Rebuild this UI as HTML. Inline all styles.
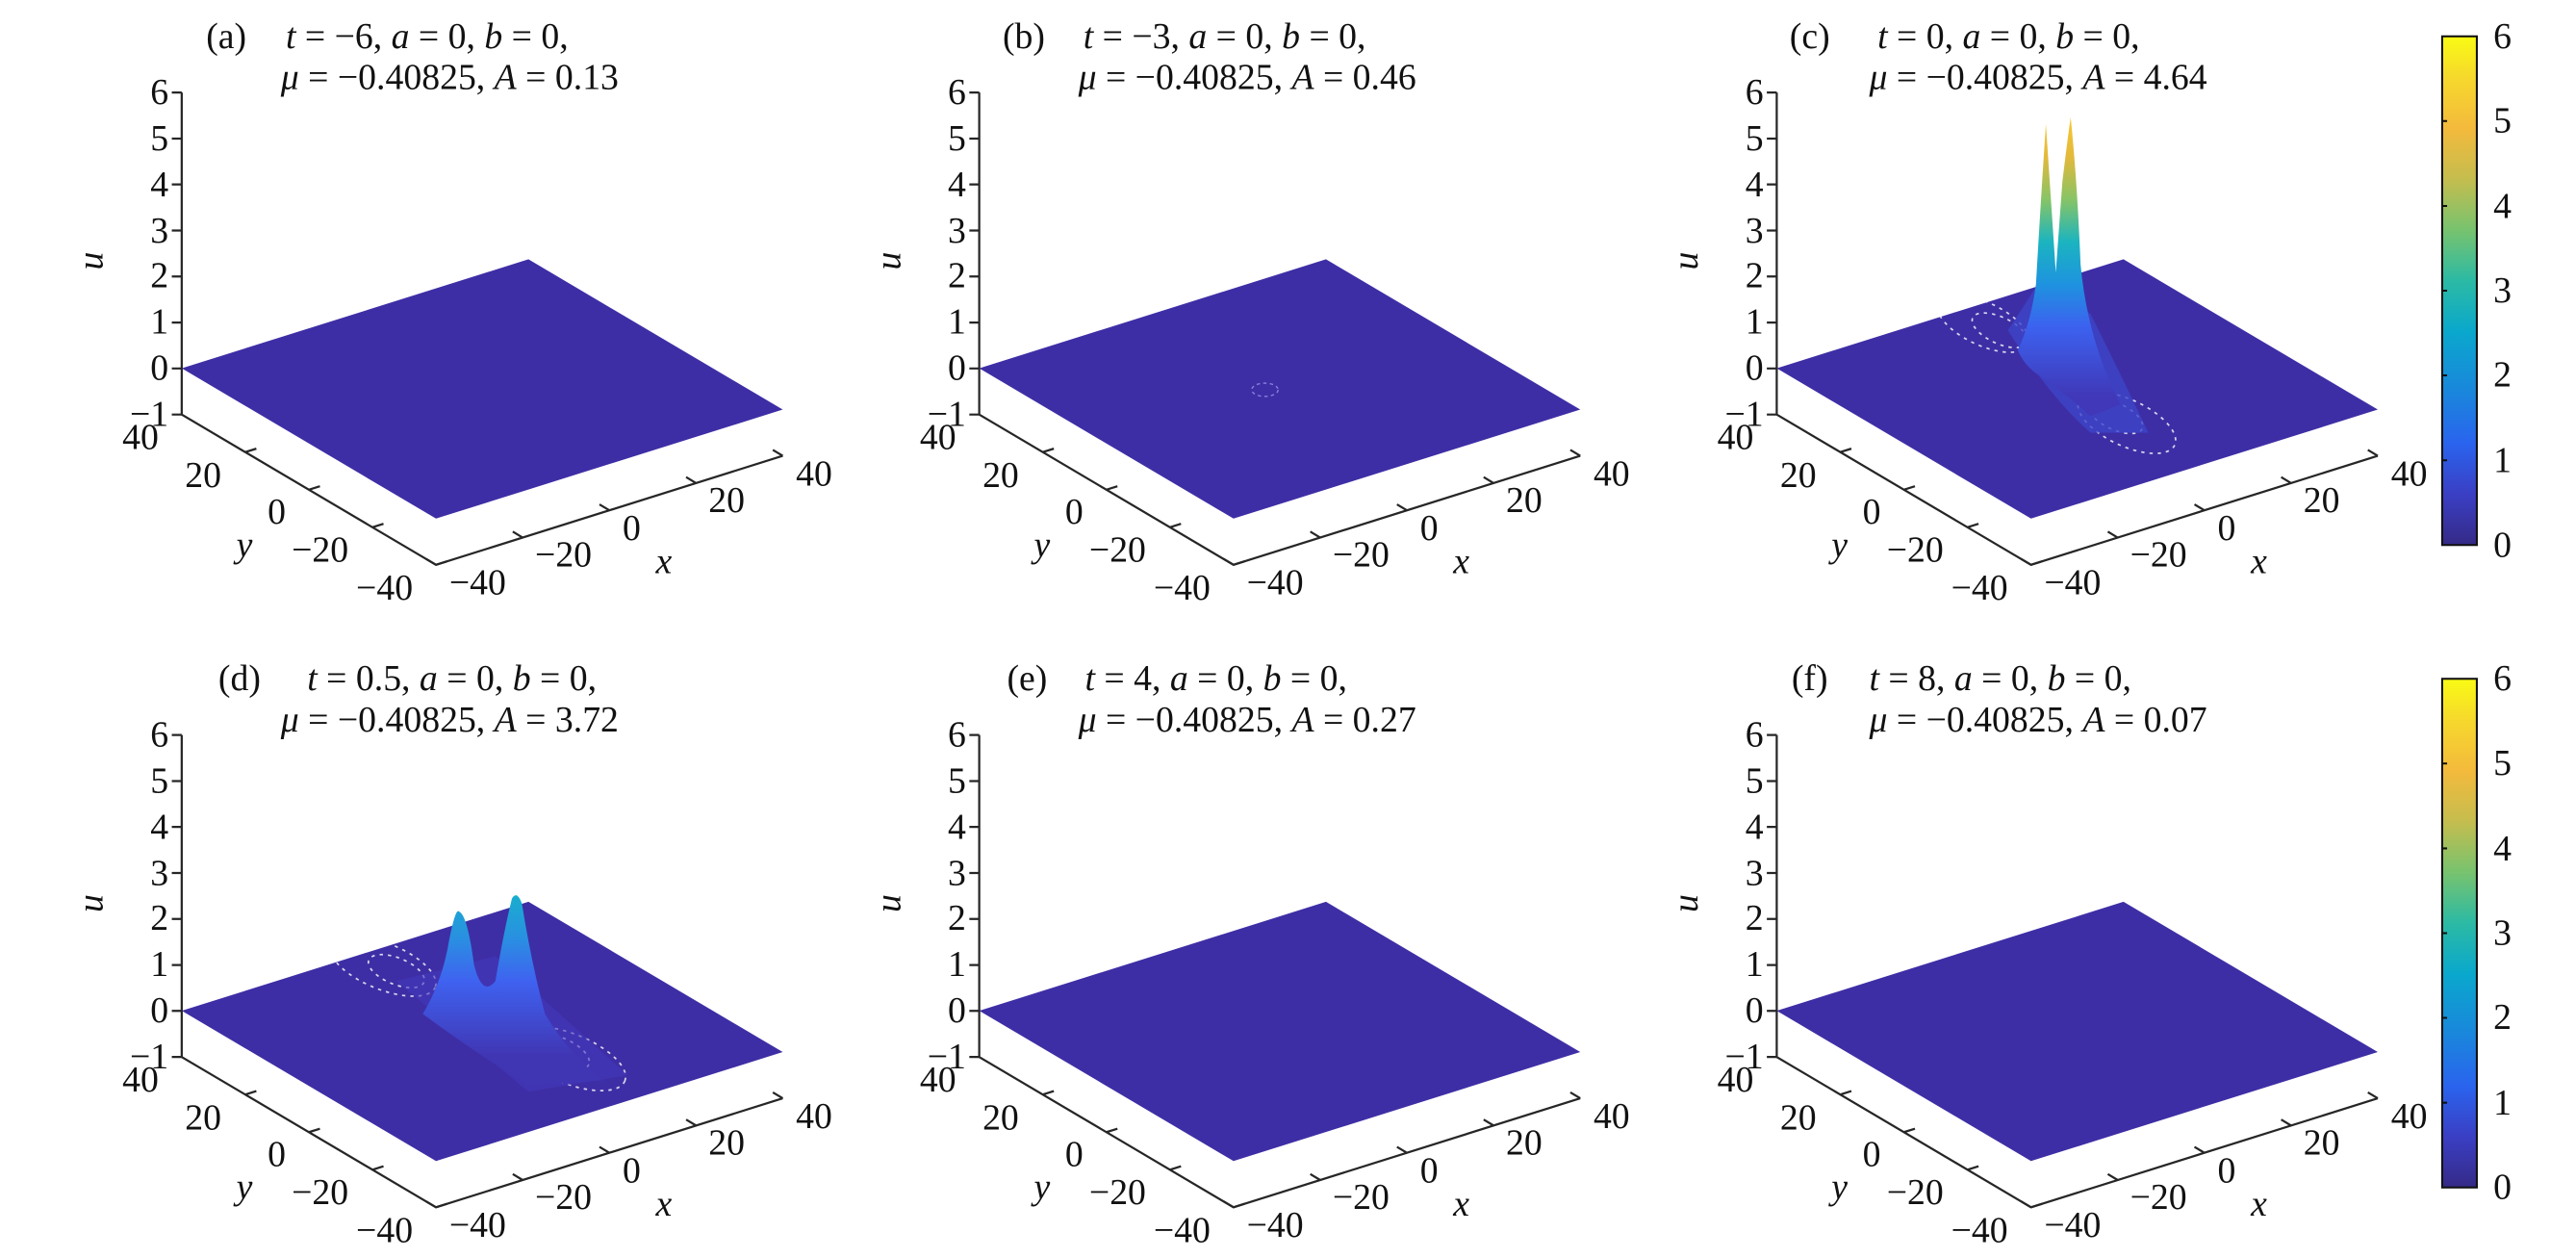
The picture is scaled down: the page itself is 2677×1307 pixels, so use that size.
<!DOCTYPE html>
<html><head><meta charset="utf-8">
<style>
html,body{margin:0;padding:0;background:#fff;}
svg{display:block;}
text{font-family:"Liberation Serif",serif;font-size:22px;fill:#111;}
.i{font-style:italic;}
</style></head>
<body>
<svg width="2677" height="1307" viewBox="0 0 1560 761.7" xmlns="http://www.w3.org/2000/svg">
<defs>
<linearGradient id="cb" x1="0" y1="1" x2="0" y2="0">
<stop offset="0" stop-color="#352a87"/>
<stop offset="0.1" stop-color="#3a3fc4"/>
<stop offset="0.2" stop-color="#2a64ee"/>
<stop offset="0.3" stop-color="#1a86dc"/>
<stop offset="0.42" stop-color="#0aa8cc"/>
<stop offset="0.52" stop-color="#2cbaa4"/>
<stop offset="0.62" stop-color="#78c36e"/>
<stop offset="0.72" stop-color="#c5bd4e"/>
<stop offset="0.82" stop-color="#f4ba3c"/>
<stop offset="0.92" stop-color="#f6d92c"/>
<stop offset="1" stop-color="#f9fb14"/>
</linearGradient>
<linearGradient id="pc" gradientUnits="userSpaceOnUse" x1="0" y1="70" x2="0" y2="240">
<stop offset="0" stop-color="#f8c830"/>
<stop offset="0.15" stop-color="#e2b93c"/>
<stop offset="0.3" stop-color="#86c466"/>
<stop offset="0.45" stop-color="#1bb4c0"/>
<stop offset="0.6" stop-color="#1e93df"/>
<stop offset="0.75" stop-color="#3c62f0"/>
<stop offset="1" stop-color="#4038b8"/>
</linearGradient>
<linearGradient id="pd" gradientUnits="userSpaceOnUse" x1="0" y1="150" x2="0" y2="250">
<stop offset="0" stop-color="#16b2cc"/>
<stop offset="0.3" stop-color="#2a8ee2"/>
<stop offset="0.55" stop-color="#3f62f0"/>
<stop offset="1" stop-color="#4036b4"/>
</linearGradient>
<g id="ax" stroke="#262626" stroke-width="1.3" fill="none">
<polygon points="110,223 320,157 474,248 264,314" fill="#3e2ea5" stroke="none"/>
<path d="M110 56V251M110 251L264 342L474 276"/>
<path d="M110 56h-6M110 83.9h-6M110 111.7h-6M110 139.6h-6M110 167.4h-6M110 195.3h-6M110 223.1h-6M110 251h-6"/>
<path d="M148.5 273.75l6.7 -2.1M187 296.5l6.7 -2.1M225.5 319.25l6.7 -2.1M264 342l6.7 -2.1"/>
<path d="M264 342l-6 -3.6M316.5 325.5l-6 -3.6M369 309l-6 -3.6M421.5 292.5l-6 -3.6M474 276l-6 -3.6"/>
</g>
</defs>

<!-- Panel a -->
<g transform="translate(0,0)">
<use href="#ax"/>
<text x="137" y="29" text-anchor="middle">(a)</text>
<text x="173" y="29"><tspan class="i">t</tspan> = −6, <tspan class="i">a</tspan> = 0, <tspan class="i">b</tspan> = 0,</text>
<text x="170" y="54"><tspan class="i">μ</tspan> = −0.40825, <tspan class="i">A</tspan> = 0.13</text>
<g text-anchor="end"><text x="102" y="63">6</text><text x="102" y="91">5</text><text x="102" y="119">4</text><text x="102" y="147">3</text><text x="102" y="174">2</text><text x="102" y="202">1</text><text x="102" y="230">0</text><text x="102" y="258">−1</text>
<text x="96" y="272">40</text><text x="134" y="295">20</text><text x="173" y="317">0</text><text x="211" y="340">−20</text><text x="250" y="363">−40</text></g>
<text x="272" y="360">−40</text><text x="324" y="343">−20</text><text x="377" y="327">0</text><text x="429" y="310">20</text><text x="482" y="294">40</text>
<text class="i" x="62" y="158" transform="rotate(-90 62 158)" text-anchor="middle">u</text>
<text class="i" x="148" y="337" text-anchor="middle">y</text><text class="i" x="402" y="347" text-anchor="middle">x</text>
</g>

<!-- Panel b -->
<g transform="translate(483,0)">
<use href="#ax"/>
<ellipse cx="283" cy="236" rx="8" ry="4" fill="none" stroke="#8a80e0" stroke-width="0.8" stroke-dasharray="2 2"/>
<text x="137" y="29" text-anchor="middle">(b)</text>
<text x="173" y="29"><tspan class="i">t</tspan> = −3, <tspan class="i">a</tspan> = 0, <tspan class="i">b</tspan> = 0,</text>
<text x="170" y="54"><tspan class="i">μ</tspan> = −0.40825, <tspan class="i">A</tspan> = 0.46</text>
<g text-anchor="end"><text x="102" y="63">6</text><text x="102" y="91">5</text><text x="102" y="119">4</text><text x="102" y="147">3</text><text x="102" y="174">2</text><text x="102" y="202">1</text><text x="102" y="230">0</text><text x="102" y="258">−1</text>
<text x="96" y="272">40</text><text x="134" y="295">20</text><text x="173" y="317">0</text><text x="211" y="340">−20</text><text x="250" y="363">−40</text></g>
<text x="272" y="360">−40</text><text x="324" y="343">−20</text><text x="377" y="327">0</text><text x="429" y="310">20</text><text x="482" y="294">40</text>
<text class="i" x="62" y="158" transform="rotate(-90 62 158)" text-anchor="middle">u</text>
<text class="i" x="148" y="337" text-anchor="middle">y</text><text class="i" x="402" y="347" text-anchor="middle">x</text>
</g>

<!-- Panel c -->
<g transform="translate(966,0)">
<use href="#ax"/>
<g fill="none" stroke="#ffffff" stroke-width="1" stroke-dasharray="2 3" opacity="0.8">
<ellipse cx="235" cy="196" rx="30" ry="13" transform="rotate(25 235 196)"/>
<ellipse cx="245" cy="200" rx="18" ry="8" transform="rotate(25 245 200)"/>
<ellipse cx="322" cy="256" rx="32" ry="14" transform="rotate(25 322 256)"/>
<ellipse cx="315" cy="252" rx="18" ry="8" transform="rotate(25 315 252)"/>
</g>
<path d="M250 200 Q260 185 268 172 L300 190 Q320 230 335 262 L300 262 Q275 240 250 200Z" fill="#3d45c8" opacity="0.8"/>
<path d="M256 212 Q264 195 267 172 Q270 120 273 75 Q276 120 279 165 L283 110 Q286 85 288 71 Q292 110 294 160 Q298 205 318 245 L300 252 Q285 238 270 228 Q260 222 256 212Z" fill="url(#pc)"/>
<text x="130" y="29" text-anchor="middle">(c)</text>
<text x="171" y="29"><tspan class="i">t</tspan> = 0, <tspan class="i">a</tspan> = 0, <tspan class="i">b</tspan> = 0,</text>
<text x="166" y="54"><tspan class="i">μ</tspan> = −0.40825, <tspan class="i">A</tspan> = 4.64</text>
<g text-anchor="end"><text x="102" y="63">6</text><text x="102" y="91">5</text><text x="102" y="119">4</text><text x="102" y="147">3</text><text x="102" y="174">2</text><text x="102" y="202">1</text><text x="102" y="230">0</text><text x="102" y="258">−1</text>
<text x="96" y="272">40</text><text x="134" y="295">20</text><text x="173" y="317">0</text><text x="211" y="340">−20</text><text x="250" y="363">−40</text></g>
<text x="272" y="360">−40</text><text x="324" y="343">−20</text><text x="377" y="327">0</text><text x="429" y="310">20</text><text x="482" y="294">40</text>
<text class="i" x="62" y="158" transform="rotate(-90 62 158)" text-anchor="middle">u</text>
<text class="i" x="148" y="337" text-anchor="middle">y</text><text class="i" x="402" y="347" text-anchor="middle">x</text>
</g>

<!-- Panel d -->
<g transform="translate(0,389)">
<use href="#ax"/>
<g fill="none" stroke="#ffffff" stroke-width="1" stroke-dasharray="2 3" opacity="0.8">
<ellipse cx="232" cy="196" rx="34" ry="14" transform="rotate(22 232 196)"/>
<ellipse cx="240" cy="199" rx="18" ry="8" transform="rotate(22 240 199)"/>
<ellipse cx="345" cy="252" rx="36" ry="15" transform="rotate(22 345 252)"/>
<ellipse cx="338" cy="248" rx="20" ry="9" transform="rotate(22 338 248)"/>
</g>
<path d="M240 205 L300 190 L380 262 L320 272Z" fill="#4438bd" opacity="0.6"/>
<path d="M256 225 Q268 205 272 180 Q276 160 278 163 Q283 165 287 195 Q292 215 300 205 Q305 175 310 155 Q313 150 316 158 Q322 195 330 225 Q345 250 365 265 L320 268 Q290 250 256 225Z" fill="url(#pd)"/>
<text x="145" y="29" text-anchor="middle">(d)</text>
<text x="186" y="29"><tspan class="i">t</tspan> = 0.5, <tspan class="i">a</tspan> = 0, <tspan class="i">b</tspan> = 0,</text>
<text x="170" y="54"><tspan class="i">μ</tspan> = −0.40825, <tspan class="i">A</tspan> = 3.72</text>
<g text-anchor="end"><text x="102" y="63">6</text><text x="102" y="91">5</text><text x="102" y="119">4</text><text x="102" y="147">3</text><text x="102" y="174">2</text><text x="102" y="202">1</text><text x="102" y="230">0</text><text x="102" y="258">−1</text>
<text x="96" y="272">40</text><text x="134" y="295">20</text><text x="173" y="317">0</text><text x="211" y="340">−20</text><text x="250" y="363">−40</text></g>
<text x="272" y="360">−40</text><text x="324" y="343">−20</text><text x="377" y="327">0</text><text x="429" y="310">20</text><text x="482" y="294">40</text>
<text class="i" x="62" y="158" transform="rotate(-90 62 158)" text-anchor="middle">u</text>
<text class="i" x="148" y="337" text-anchor="middle">y</text><text class="i" x="402" y="347" text-anchor="middle">x</text>
</g>

<!-- Panel e -->
<g transform="translate(483,389)">
<use href="#ax"/>
<text x="139" y="29" text-anchor="middle">(e)</text>
<text x="174" y="29"><tspan class="i">t</tspan> = 4, <tspan class="i">a</tspan> = 0, <tspan class="i">b</tspan> = 0,</text>
<text x="170" y="54"><tspan class="i">μ</tspan> = −0.40825, <tspan class="i">A</tspan> = 0.27</text>
<g text-anchor="end"><text x="102" y="63">6</text><text x="102" y="91">5</text><text x="102" y="119">4</text><text x="102" y="147">3</text><text x="102" y="174">2</text><text x="102" y="202">1</text><text x="102" y="230">0</text><text x="102" y="258">−1</text>
<text x="96" y="272">40</text><text x="134" y="295">20</text><text x="173" y="317">0</text><text x="211" y="340">−20</text><text x="250" y="363">−40</text></g>
<text x="272" y="360">−40</text><text x="324" y="343">−20</text><text x="377" y="327">0</text><text x="429" y="310">20</text><text x="482" y="294">40</text>
<text class="i" x="62" y="158" transform="rotate(-90 62 158)" text-anchor="middle">u</text>
<text class="i" x="148" y="337" text-anchor="middle">y</text><text class="i" x="402" y="347" text-anchor="middle">x</text>
</g>

<!-- Panel f -->
<g transform="translate(966,389)">
<use href="#ax"/>
<text x="130" y="29" text-anchor="middle">(f)</text>
<text x="166" y="29"><tspan class="i">t</tspan> = 8, <tspan class="i">a</tspan> = 0, <tspan class="i">b</tspan> = 0,</text>
<text x="166" y="54"><tspan class="i">μ</tspan> = −0.40825, <tspan class="i">A</tspan> = 0.07</text>
<g text-anchor="end"><text x="102" y="63">6</text><text x="102" y="91">5</text><text x="102" y="119">4</text><text x="102" y="147">3</text><text x="102" y="174">2</text><text x="102" y="202">1</text><text x="102" y="230">0</text><text x="102" y="258">−1</text>
<text x="96" y="272">40</text><text x="134" y="295">20</text><text x="173" y="317">0</text><text x="211" y="340">−20</text><text x="250" y="363">−40</text></g>
<text x="272" y="360">−40</text><text x="324" y="343">−20</text><text x="377" y="327">0</text><text x="429" y="310">20</text><text x="482" y="294">40</text>
<text class="i" x="62" y="158" transform="rotate(-90 62 158)" text-anchor="middle">u</text>
<text class="i" x="148" y="337" text-anchor="middle">y</text><text class="i" x="402" y="347" text-anchor="middle">x</text>
</g>

<!-- Colorbars -->
<g transform="translate(0,0)">
<rect x="1479" y="22" width="21" height="308" fill="url(#cb)" stroke="#111" stroke-width="1.2"/>
<path d="M1479 73.3h3M1479 124.7h3M1479 176h3M1479 227.3h3M1479 278.7h3" stroke="#111" stroke-width="1.2"/>
<text x="1510" y="29">6</text><text x="1510" y="80">5</text><text x="1510" y="132">4</text><text x="1510" y="183">3</text><text x="1510" y="234">2</text><text x="1510" y="286">1</text><text x="1510" y="337">0</text>
</g>
<g transform="translate(0,389)">
<rect x="1479" y="22" width="21" height="308" fill="url(#cb)" stroke="#111" stroke-width="1.2"/>
<path d="M1479 73.3h3M1479 124.7h3M1479 176h3M1479 227.3h3M1479 278.7h3" stroke="#111" stroke-width="1.2"/>
<text x="1510" y="29">6</text><text x="1510" y="80">5</text><text x="1510" y="132">4</text><text x="1510" y="183">3</text><text x="1510" y="234">2</text><text x="1510" y="286">1</text><text x="1510" y="337">0</text>
</g>
</svg>
</body></html>
